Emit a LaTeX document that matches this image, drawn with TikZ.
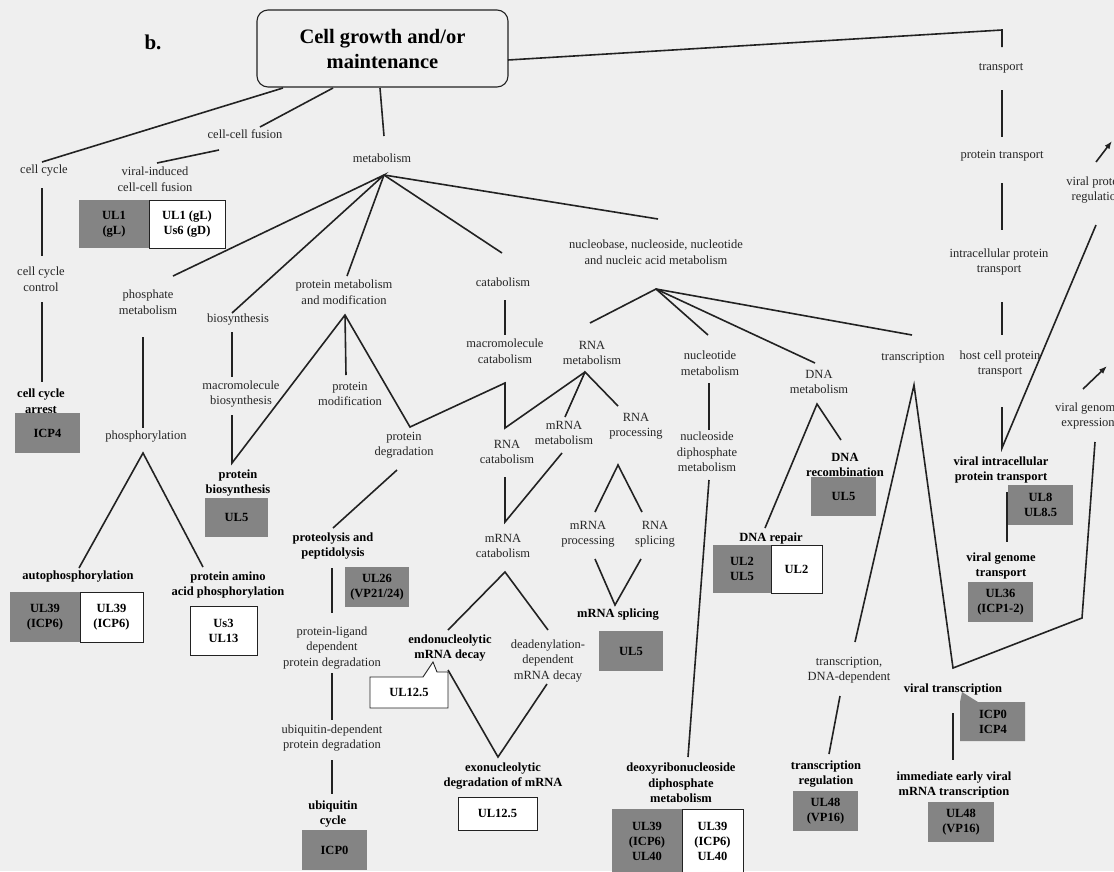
\documentclass[tikz,border=0pt]{standalone}
\usepackage{fontspec}
\setmainfont{Liberation Serif}
\usetikzlibrary{arrows.meta}
\definecolor{bg}{RGB}{239,239,239}
\definecolor{gfill}{RGB}{132,132,132}
\definecolor{ln}{RGB}{34,34,34}
\begin{document}
\begin{tikzpicture}[x=1pt,y=-1pt,
  lbl/.style={font=\fontsize{12.5}{15.5}\selectfont, align=center, inner sep=0pt, text=black!85},
  blbl/.style={font=\bfseries\fontsize{12.5}{15.5}\selectfont, align=center, inner sep=0pt},
  gbox/.style={fill=gfill, inner sep=0pt, outer sep=0pt, align=center, font=\bfseries\fontsize{12.5}{15}\selectfont},
  wbox/.style={fill=white, draw=ln, line width=0.9pt, inner sep=0pt, outer sep=0pt, align=center, font=\bfseries\fontsize{12.5}{15}\selectfont},
  btxt/.style={inner sep=0pt, align=center, font=\bfseries\fontsize{12.5}{15}\selectfont},
  conn/.style={draw=ln, line width=1.6pt},
  arr/.style={conn, -{Latex[length=8pt,width=6pt]}},
]
\useasboundingbox (0,0) rectangle (1114,871);
\clip (0,0) rectangle (1114,871);
\fill[bg] (0,0) rectangle (1114,871);

% ---------- title ----------
\node[font=\bfseries\fontsize{21}{25}\selectfont, inner sep=0pt] (blabel) at (153,42) {b.};
\node[draw=ln, line width=1.1pt, rounded corners=11pt, minimum width=251pt, minimum height=77pt,
      inner sep=0pt, align=center, font=\bfseries\fontsize{20.5}{25}\selectfont] (root) at (382.5,48.5) {Cell growth and/or\\maintenance};

% ---------- text nodes ----------
\node[lbl] (cellcycle) at (44,171) {cell cycle};
\node[lbl] (ccfusion) at (245,134) {cell-cell fusion};
\node[lbl] (metab) at (382,158) {metabolism};
\node[lbl] (viralfus) at (155,179) {viral-induced\\cell-cell fusion};
\node[lbl] (cccontrol) at (41,279) {cell cycle\\control};
\node[blbl] (ccarrest) at (41,401) {cell cycle\\arrest};
\node[lbl] (phosmet) at (148,302) {phosphate\\metabolism};
\node[lbl] (biosyn) at (238,320) {biosynthesis};
\node[lbl] (protmet) at (344,292) {protein metabolism\\and modification};
\node[lbl] (catab) at (503,282) {catabolism};
\node[lbl] (nucleo) at (656,252) {nucleobase, nucleoside, nucleotide\\and nucleic acid metabolism};
\node[lbl] (phosph) at (146,437) {phosphorylation};
\node[lbl] (macrobio) at (241,394) {macromolecule\\biosynthesis};
\node[lbl] (protmod) at (350,394) {protein\\modification};
\node[blbl] (protbio) at (238,483) {protein\\biosynthesis};
\node[lbl] (protdeg) at (404,445) {protein\\degradation};
\node[lbl] (macrocat) at (505,351) {macromolecule\\catabolism};
\node[lbl] (rnamet) at (592,353) {RNA\\metabolism};
\node[lbl] (nucmet) at (710,363) {nucleotide\\metabolism};
\node[lbl] (dnamet) at (819,382) {DNA\\metabolism};
\node[lbl] (transcr) at (913,358) {transcription};
\node[lbl] (rnacat) at (507,452) {RNA\\catabolism};
\node[lbl] (mrnamet) at (564,433) {mRNA\\metabolism};
\node[lbl] (rnaproc) at (636,426) {RNA\\processing};
\node[lbl] (nucdiph) at (707,452) {nucleoside\\diphosphate\\metabolism};
\node[lbl] (mrnacat) at (503,546) {mRNA\\catabolism};
\node[lbl] (mrnaproc) at (588,534) {mRNA\\processing};
\node[lbl] (rnaspl) at (655,534) {RNA\\splicing};
\node[blbl] (dnarecomb) at (845,465) {DNA\\recombination};
\node[blbl] (dnarepair) at (771,538) {DNA repair};
\node[blbl] (autoph) at (78,577) {autophosphorylation};
\node[blbl] (protamino) at (228,585) {protein amino\\acid phosphorylation};
\node[blbl] (proteol) at (333,546) {proteolysis and\\peptidolysis};
\node[lbl] (protlig) at (332,648) {protein-ligand\\dependent\\protein degradation};
\node[lbl] (ubidep) at (332,738) {ubiquitin-dependent\\protein degradation};
\node[blbl] (ubicyc) at (333,814) {ubiquitin\\cycle};
\node[blbl] (endo) at (450,648) {endonucleolytic\\mRNA decay};
\node[lbl] (dead) at (548,661) {deadenylation-\\dependent\\mRNA decay};
\node[blbl] (exo) at (503,776) {exonucleolytic\\degradation of mRNA};
\node[blbl] (mrnaspl) at (618,615) {mRNA splicing};
\node[blbl] (deoxy) at (681,783) {deoxyribonucleoside\\diphosphate\\metabolism};
\node[lbl] (tdna) at (849,670) {transcription,\\DNA-dependent};
\node[blbl] (treg) at (826,774) {transcription\\regulation};
\node[blbl] (vtrans) at (953,689) {viral transcription};
\node[blbl] (ievmt) at (954,785) {immediate early viral\\mRNA transcription};
\node[lbl] (transport) at (1001,68) {transport};
\node[lbl] (ptransport) at (1002,156) {protein transport};
\node[lbl] (ictransport) at (999,262) {intracellular protein\\transport};
\node[lbl] (hcpt) at (1000,364) {host cell protein\\transport};
\node[blbl] (vipt) at (1001,470) {viral intracellular\\protein transport};
\node[blbl] (vgt) at (1001,566) {viral genome\\transport};
\node[lbl] (vpr) at (1097,190) {viral protein\\regulation};
\node[lbl] (vge) at (1088,416) {viral genome\\expression};

% ---------- boxes ----------
\node[gbox, minimum width=70pt, minimum height=48pt] (fusG) at (114,224) {UL1\\(gL)};
\node[wbox, minimum width=76pt, minimum height=48pt] (fusW) at (187,224) {UL1 (gL)\\Us6 (gD)};
\node[gbox, minimum width=65pt, minimum height=40pt] (icp4) at (47.5,433) {ICP4};
\node[gbox, minimum width=70pt, minimum height=50pt] (autoG) at (45,617) {UL39\\(ICP6)};
\node[wbox, minimum width=63pt, minimum height=50pt] (autoW) at (111.5,617) {UL39\\(ICP6)};
\node[wbox, minimum width=67pt, minimum height=49pt] (us3) at (223.5,630.5) {Us3\\UL13};
\node[gbox, minimum width=63pt, minimum height=39pt] (ul5a) at (236.5,517.5) {UL5};
\node[gbox, minimum width=64pt, minimum height=40pt] (ul26) at (377,587) {UL26\\(VP21/24)};
\node[gbox, minimum width=65pt, minimum height=40pt] (icp0) at (334.5,850) {ICP0};
\node[wbox, minimum width=79pt, minimum height=33pt] (ul125b) at (497.5,813.5) {UL12.5};
\node[gbox, minimum width=64pt, minimum height=40pt] (ul5b) at (631,651) {UL5};
\node[gbox, minimum width=70pt, minimum height=64pt] (deoxyG) at (647,841) {UL39\\(ICP6)\\UL40};
\node[wbox, minimum width=61pt, minimum height=64pt] (deoxyW) at (712.5,841) {UL39\\(ICP6)\\UL40};
\node[gbox, minimum width=65pt, minimum height=39pt] (ul5c) at (843.5,496.5) {UL5};
\node[gbox, minimum width=58pt, minimum height=48pt] (repG) at (742,569) {UL2\\UL5};
\node[wbox, minimum width=51pt, minimum height=48pt] (repW) at (796.5,569) {UL2};
\node[gbox, minimum width=65pt, minimum height=40pt] (ul48a) at (825.5,811) {UL48\\(VP16)};
\node[gbox, minimum width=66pt, minimum height=40pt] (ul48b) at (961,822) {UL48\\(VP16)};
\node[gbox, minimum width=65pt, minimum height=40pt] (ul8) at (1040.5,505) {UL8\\UL8.5};
\node[gbox, minimum width=65pt, minimum height=40pt] (ul36) at (1000.5,602) {UL36\\(ICP1-2)};

% callouts
\filldraw[fill=white, draw=ln, line width=0.9pt] (370,677) -- (423,677) -- (433,662) -- (437,672) -- (448,672) -- (448,708) -- (370,708) -- cycle;
\node[btxt] (ul125a) at (409,692) {UL12.5};
\fill[gfill] (960,741) -- (960,702) -- (962,692) -- (978,702) -- (1025,702) -- (1025,741) -- cycle;
\node[btxt] (icp04) at (993,722) {ICP0\\ICP4};

% ---------- coordinates ----------
\coordinate (rootA) at (283,88);  \coordinate (ccTop) at (42,162);
\coordinate (rootB) at (333,88);  \coordinate (fusTop) at (260,127);
\coordinate (rootC) at (380,88);  \coordinate (metTop) at (384,136);
\coordinate (rootD) at (508,60);  \coordinate (trCorner) at (1002,30); \coordinate (trTop) at (1002,47);
\coordinate (fusA) at (219,150);  \coordinate (vfTop) at (157,163);
\coordinate (ccA) at (42,188);    \coordinate (ccB) at (42,256);
\coordinate (ccC) at (42,302);    \coordinate (ccD) at (42,382);
\coordinate (mApex) at (384,175);
\coordinate (pmTop) at (173,276); \coordinate (bsTop) at (232,313); \coordinate (prmTop) at (347,276);
\coordinate (caTop) at (502,253); \coordinate (nuTop) at (658,219);
\coordinate (phA) at (143,337);   \coordinate (phB) at (143,428);
\coordinate (phApex) at (143,453); \coordinate (apTop) at (79,568); \coordinate (paTop) at (203,567);
\coordinate (bsA) at (232,332);   \coordinate (bsB) at (232,377);
\coordinate (mbA) at (232,415);   \coordinate (pbTop) at (232,463);
\coordinate (pApex) at (345,315); \coordinate (pmodTop) at (346,375); \coordinate (pdApex) at (410,427);
\coordinate (mcBot) at (505,383);
\coordinate (caA) at (505,300);   \coordinate (mcTop) at (505,335);
\coordinate (rcApex) at (505,428);
\coordinate (rApex) at (585,372); \coordinate (mmTop) at (565,417); \coordinate (rpTop) at (618,406);
\coordinate (nApex) at (656,289); \coordinate (rmTop) at (590,323); \coordinate (ntTop) at (708,335);
\coordinate (dmTop) at (815,363); \coordinate (tcTop) at (912,335);
\coordinate (pdBot) at (397,470); \coordinate (plTop) at (333,528);
\coordinate (plA) at (332,568);   \coordinate (plB) at (332,613);
\coordinate (ldA) at (332,673);   \coordinate (ldB) at (332,720);
\coordinate (udA) at (332,760);   \coordinate (udB) at (332,794);
\coordinate (rcA) at (505,477);   \coordinate (mcatTop) at (505,522);
\coordinate (mmBot) at (562,453);
\coordinate (mcatApex) at (505,572); \coordinate (enTop) at (448,630); \coordinate (deTop) at (548,630);
\coordinate (enBot) at (448,670); \coordinate (deBot) at (547,684); \coordinate (exTop) at (498,757);
\coordinate (rpApex) at (618,465); \coordinate (mpTop) at (595,512); \coordinate (rsTop) at (642,512);
\coordinate (mpBot) at (595,559); \coordinate (rsBot) at (641,559); \coordinate (msTop) at (615,605);
\coordinate (ntA) at (709,383);   \coordinate (ndTop) at (709,430);
\coordinate (ndBot) at (709,480); \coordinate (dxTop) at (688,757);
\coordinate (dmApex) at (817,404); \coordinate (drcTop) at (841,440); \coordinate (drpTop) at (765,528);
\coordinate (tApex) at (914,385); \coordinate (tdTop) at (855,642); \coordinate (vtTop) at (953,668);
\coordinate (vgeLow) at (1082,618); \coordinate (vgeBot) at (1095,442);
\coordinate (tdBot) at (840,696); \coordinate (trgTop) at (829,754);
\coordinate (vtA) at (953,713);   \coordinate (ieTop) at (953,760);
\coordinate (tpA) at (1002,90);   \coordinate (tpB) at (1002,137);
\coordinate (ptA) at (1002,183);  \coordinate (ptB) at (1002,230);
\coordinate (icA) at (1002,302);  \coordinate (icB) at (1002,335);
\coordinate (hcA) at (1002,407);  \coordinate (viptTop) at (1002,448);
\coordinate (vprBot) at (1096,225);
\coordinate (vgA) at (1007,492);  \coordinate (vgB) at (1007,542);
\coordinate (vprA) at (1096,162); \coordinate (vprB) at (1112,141);
\coordinate (vgeA) at (1083,389); \coordinate (vgeB) at (1107,366);

% ---------- connectors ----------
\draw[conn] (rootA) -- (ccTop);
\draw[conn] (rootB) -- (fusTop);
\draw[conn] (rootC) -- (metTop);
\draw[conn] (rootD) -- (trCorner) -- (trTop);
\draw[conn] (fusA) -- (vfTop);
\draw[conn] (ccA) -- (ccB);
\draw[conn] (ccC) -- (ccD);
\draw[conn] (pmTop) -- (mApex) -- (bsTop);
\draw[conn] (mApex) -- (prmTop);
\draw[conn] (mApex) -- (caTop);
\draw[conn] (mApex) -- (nuTop);
\draw[conn] (phA) -- (phB);
\draw[conn] (apTop) -- (phApex) -- (paTop);
\draw[conn] (bsA) -- (bsB);
\draw[conn] (mbA) -- (pbTop) -- (pApex) -- (pdApex) -- (mcBot) -- (rcApex) -- (rApex);
\draw[conn] (pApex) -- (pmodTop);
\draw[conn] (caA) -- (mcTop);
\draw[conn] (mmTop) -- (rApex) -- (rpTop);
\draw[conn] (rmTop) -- (nApex) -- (ntTop);
\draw[conn] (nApex) -- (dmTop);
\draw[conn] (nApex) -- (tcTop);
\draw[conn] (pdBot) -- (plTop);
\draw[conn] (plA) -- (plB);
\draw[conn] (ldA) -- (ldB);
\draw[conn] (udA) -- (udB);
\draw[conn] (rcA) -- (mcatTop) -- (mmBot);
\draw[conn] (enTop) -- (mcatApex) -- (deTop);
\draw[conn] (enBot) -- (exTop) -- (deBot);
\draw[conn] (mpTop) -- (rpApex) -- (rsTop);
\draw[conn] (mpBot) -- (msTop) -- (rsBot);
\draw[conn] (ntA) -- (ndTop);
\draw[conn] (ndBot) -- (dxTop);
\draw[conn] (drcTop) -- (dmApex) -- (drpTop);
\draw[conn] (tdTop) -- (tApex) -- (vtTop) -- (vgeLow) -- (vgeBot);
\draw[conn] (tdBot) -- (trgTop);
\draw[conn] (vtA) -- (ieTop);
\draw[conn] (tpA) -- (tpB);
\draw[conn] (ptA) -- (ptB);
\draw[conn] (icA) -- (icB);
\draw[conn] (hcA) -- (viptTop) -- (vprBot);
\draw[conn] (vgA) -- (vgB);
\draw[arr] (vprA) -- (vprB);
\draw[arr] (vgeA) -- (vgeB);
\end{tikzpicture}
\end{document}
